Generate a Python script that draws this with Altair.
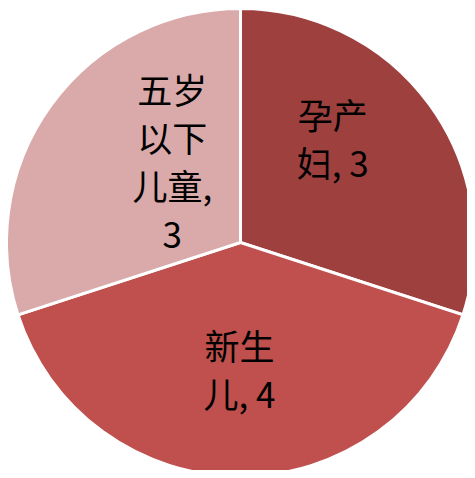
import math
import altair as alt
import pandas as pd

categories = ["孕产妇", "新生儿", "五岁以下儿童"]
values = [3, 4, 3]
label_lines = [["孕产", "妇, 3"], ["新生", "儿, 4"], ["五岁", "以下", "儿童,", "3"]]
colors = ["#9E413E", "#C0504D", "#D9AAA9"]

df = pd.DataFrame({
    "category": categories,
    "value": values,
    "order": list(range(len(categories))),
    "label": ["\n".join(l) for l in label_lines],
})

theta_scale = alt.Scale(domain=[0, 1], range=[0, 2 * math.pi])

base = (
    alt.Chart(df)
    .transform_window(cum="sum(value)", sort=[alt.SortField("order")], frame=[None, 0])
    .transform_joinaggregate(total="sum(value)")
    .transform_calculate(
        t0="(datum.cum - datum.value) / datum.total",
        t1="datum.cum / datum.total",
        tm="(datum.cum - datum.value / 2) / datum.total",
    )
)

CX, CY = 232.5, 234.5

arcs = base.mark_arc(outerRadius=234, stroke="white", strokeWidth=3).encode(
    x=alt.value(CX),
    y=alt.value(CY),
    theta=alt.Theta("t0:Q", scale=theta_scale),
    theta2="t1:Q",
    color=alt.Color("category:N", scale=alt.Scale(domain=categories, range=colors), legend=None),
)

# Excel "best fit" nudges per label
nudges = [(-21, -42), (-1, -34), (45, -67)]

layers = [arcs]
for i, (ddx, ddy) in enumerate(nudges):
    layers.append(
        base.transform_filter(f"datum.order == {i}")
        .mark_text(
            radius=140, dx=ddx, dy=ddy, fontSize=35, lineHeight=48,
            font="Noto Sans CJK SC", lineBreak="\n", align="center",
            baseline="middle", color="black",
        )
        .encode(
            x=alt.value(CX),
            y=alt.value(CY),
            theta=alt.Theta("tm:Q", scale=theta_scale),
            text="label:N",
        )
    )

chart = (
    alt.layer(*layers)
    .properties(width=459, height=462, autosize=alt.AutoSizeParams(type="none"), padding=0)
    .configure_view(stroke=None)
)

chart.save("out.html", embed_options={"renderer": "svg", "actions": False})
